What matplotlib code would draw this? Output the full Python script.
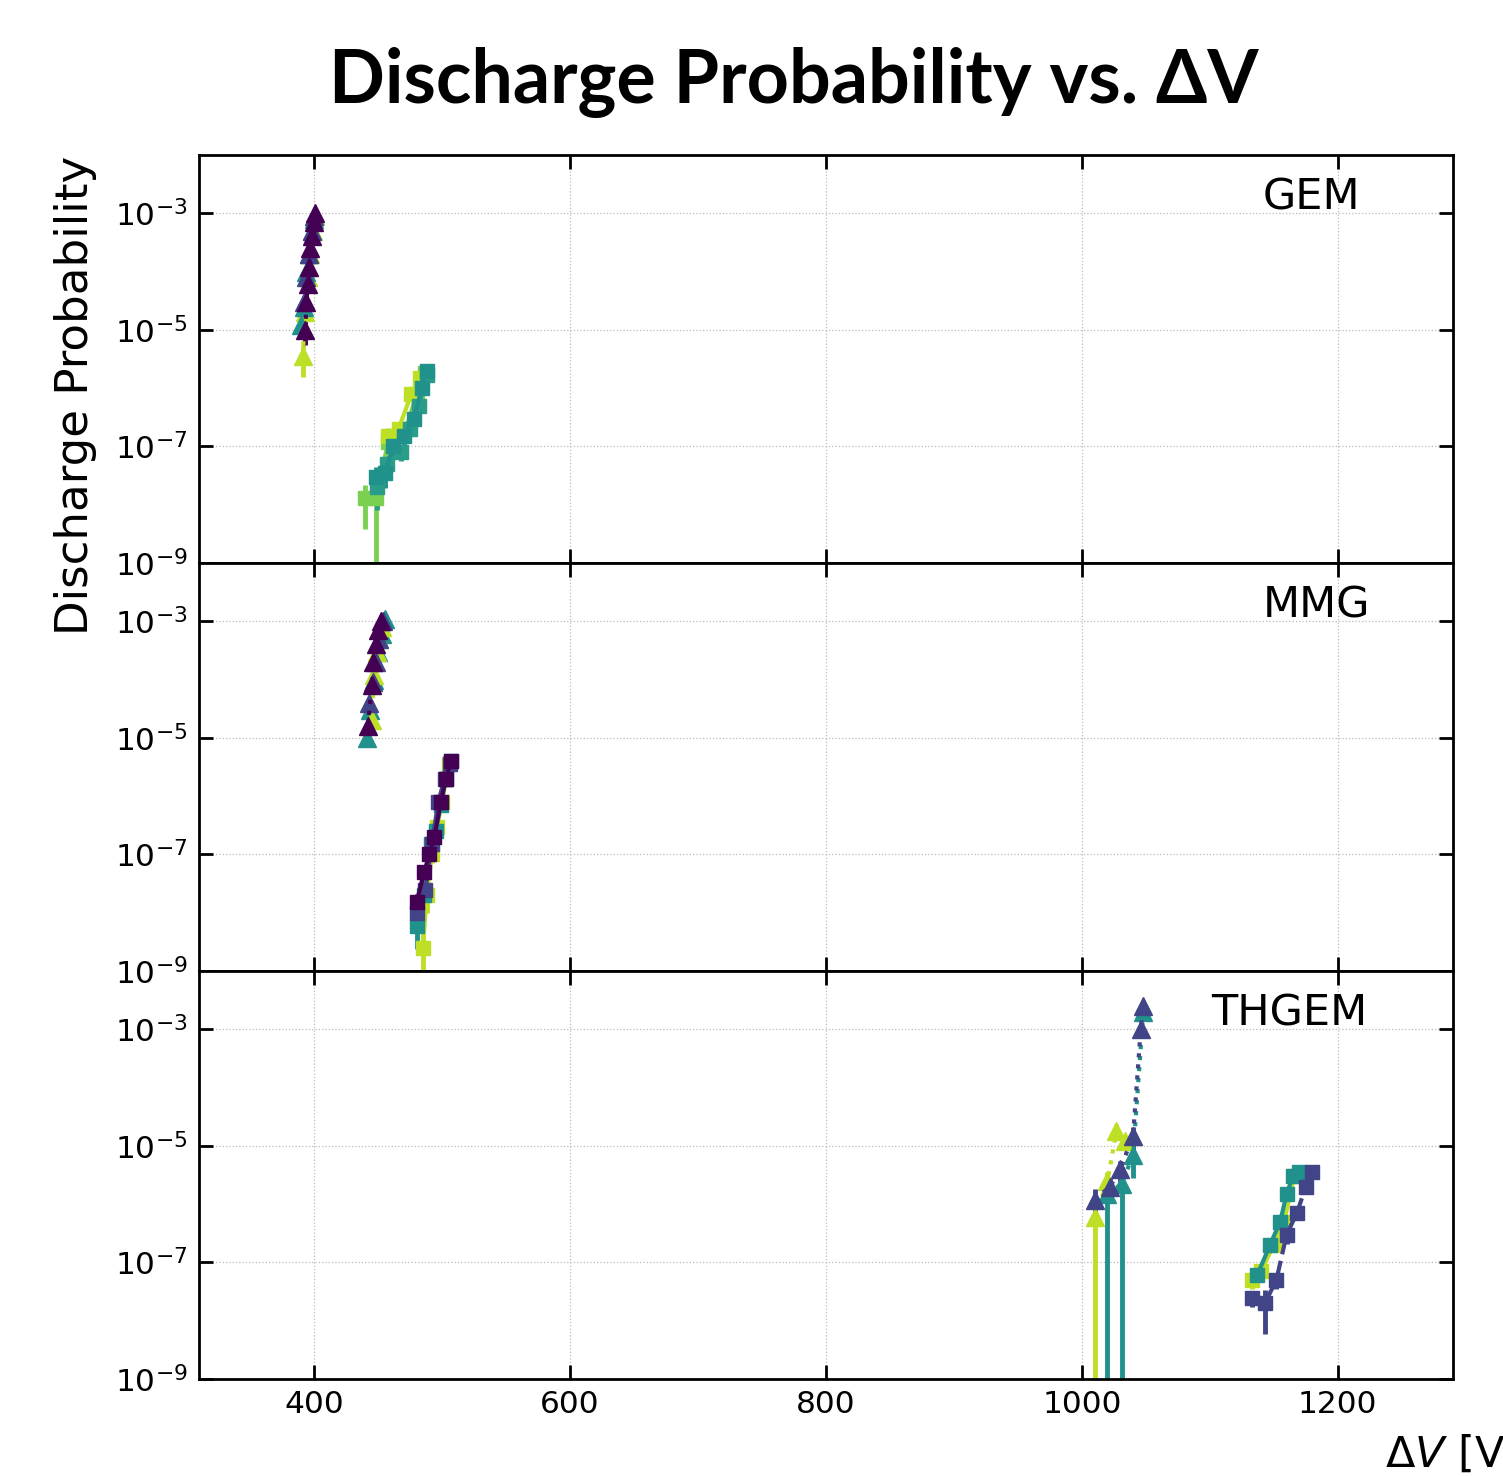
import numpy as np
import matplotlib
matplotlib.use('Agg')
import matplotlib.pyplot as plt

# viridis-like colours used by the series
PURPLE = '#440154'
DBLUE = '#414487'
TEAL = '#21918c'
TGREEN = '#2a9d8a'
GREEN = '#7ad151'
YGREEN = '#bddf26'

panel_names = ['GEM', 'MMG', 'THGEM']
panel_label_x = [0.848, 0.848, 0.807]

# ---- GEM ----
gem_tri_colors = [YGREEN, TEAL, DBLUE, PURPLE]
gem_tri_x = [[391, 393, 395, 397, 399, 401],
             [390, 392, 394, 396, 398, 400],
             [392, 394, 396, 398, 400],
             [393, 394, 395, 396, 397, 398, 400, 401]]
gem_tri_y = [[3.5e-6, 2e-5, 8e-5, 2e-4, 5e-4, 9e-4],
             [1.2e-5, 2.5e-5, 1e-4, 2e-4, 5e-4, 8e-4],
             [3e-5, 8e-5, 2e-4, 5e-4, 9e-4],
             [1e-5, 3e-5, 6e-5, 1.2e-4, 2.5e-4, 4e-4, 7e-4, 1e-3]]
gem_tri_err = [[0.55, 0.3, 0.2, 0.15, 0.1, 0.1],
               [0.3, 0.25, 0.2, 0.15, 0.1, 0.1],
               [0.25, 0.2, 0.15, 0.1, 0.1],
               [0.45, 0.3, 0.2, 0.15, 0.1, 0.1, 0.1, 0.1]]

gem_sq_colors = [GREEN, YGREEN, TGREEN, TEAL]
gem_sq_x = [[440, 448, 458, 465, 472, 480, 487],
            [458, 466, 476, 483],
            [449, 457, 468, 475, 482, 488],
            [448, 455, 462, 470, 478, 484, 488]]
gem_sq_y = [[1.3e-8, 1.3e-8, 1.2e-7, 1.5e-7, 2e-7, 8e-7, 1.8e-6],
            [1.5e-7, 2e-7, 8e-7, 1.5e-6],
            [2e-8, 5e-8, 8e-8, 2e-7, 5e-7, 1.7e-6],
            [3e-8, 3.5e-8, 1e-7, 1.5e-7, 3e-7, 1e-6, 2e-6]]
gem_sq_err = [[0.7, 1.0, 0.4, 0.3, 0.3, 0.2, 0.15],
              [0.4, 0.3, 0.2, 0.15],
              [0.6, 0.4, 0.3, 0.25, 0.2, 0.15],
              [0.5, 0.45, 0.35, 0.3, 0.25, 0.2, 0.15]]

# ---- MMG ----
mmg_tri_colors = [TEAL, YGREEN, DBLUE, PURPLE]
mmg_tri_x = [[441, 444, 447, 450, 453, 455],
             [445, 447, 449, 451, 453],
             [443, 446, 448, 451, 454],
             [442, 445, 446, 448, 450, 452]]
mmg_tri_y = [[1e-5, 3e-5, 1e-4, 3e-4, 6e-4, 1.1e-3],
             [2e-5, 1.2e-4, 3e-4, 5e-4, 8e-4],
             [4e-5, 9e-5, 2e-4, 5e-4, 1e-3],
             [1.6e-5, 8e-5, 2e-4, 4e-4, 7e-4, 1e-3]]
mmg_tri_err = [[0.25, 0.2, 0.15, 0.1, 0.1, 0.1],
               [0.25, 0.15, 0.1, 0.1, 0.1],
               [0.2, 0.15, 0.1, 0.1, 0.1],
               [0.25, 0.15, 0.1, 0.1, 0.1, 0.1]]

mmg_sq_colors = [YGREEN, TEAL, DBLUE, PURPLE]
mmg_sq_x = [[485, 488, 492, 496, 500, 505],
            [480, 486, 491, 495, 499, 503, 507],
            [480, 487, 492, 497, 502, 506],
            [480, 486, 490, 494, 499, 503, 507]]
mmg_sq_y = [[2.5e-9, 2e-8, 1e-7, 3e-7, 8e-7, 3.5e-6],
            [6e-9, 2e-8, 1.5e-7, 2.5e-7, 7e-7, 2e-6, 4e-6],
            [1e-8, 2.5e-8, 1.5e-7, 8e-7, 2e-6, 3.5e-6],
            [1.5e-8, 5e-8, 1e-7, 2e-7, 8e-7, 2e-6, 4e-6]]
mmg_sq_err = [[1.0, 0.5, 0.3, 0.25, 0.2, 0.15],
              [0.6, 0.4, 0.3, 0.25, 0.2, 0.15, 0.1],
              [0.5, 0.4, 0.3, 0.2, 0.15, 0.1],
              [0.4, 0.3, 0.3, 0.2, 0.15, 0.1, 0.1]]

# ---- THGEM ----
thg_tri_colors = [YGREEN, TEAL, DBLUE]
thg_tri_x = [[1010, 1020, 1027, 1034],
             [1020, 1031, 1040, 1048],
             [1010, 1022, 1030, 1040, 1046, 1048]]
thg_tri_y = [[6e-7, 2.5e-6, 1.8e-5, 1.2e-5],
             [1.5e-6, 2.2e-6, 7e-6, 2e-3],
             [1.2e-6, 2e-6, 4e-6, 1.5e-5, 1e-3, 2.5e-3]]
thg_tri_err = [[1.0, 0.4, 0.3, 0.3],
               [1.0, 1.0, 0.6, 0.15],
               [0.5, 0.4, 0.4, 0.4, 0.15, 0.15]]

thg_sq_colors = [YGREEN, TEAL, DBLUE]
thg_sq_x = [[1133, 1140, 1150, 1158, 1166],
            [1137, 1147, 1155, 1160, 1165, 1170],
            [1133, 1143, 1152, 1160, 1168, 1175, 1180]]
thg_sq_y = [[5e-8, 7e-8, 2e-7, 5e-7, 3e-6],
            [6e-8, 2e-7, 5e-7, 1.5e-6, 3e-6, 3.5e-6],
            [2.5e-8, 2e-8, 5e-8, 3e-7, 7e-7, 2e-6, 3.5e-6]]
thg_sq_err = [[0.3, 0.3, 0.2, 0.2, 0.15],
              [0.3, 0.25, 0.2, 0.2, 0.15, 0.1],
              [0.3, 0.7, 0.3, 0.3, 0.2, 0.15, 0.1]]
thg_sq_styles = ['-', '-', '--']

panels = [
    [(gem_tri_colors, gem_tri_x, gem_tri_y, gem_tri_err, '^', [':'] * 4),
     (gem_sq_colors, gem_sq_x, gem_sq_y, gem_sq_err, 's', ['-'] * 4)],
    [(mmg_tri_colors, mmg_tri_x, mmg_tri_y, mmg_tri_err, '^', [':'] * 4),
     (mmg_sq_colors, mmg_sq_x, mmg_sq_y, mmg_sq_err, 's', ['-'] * 4)],
    [(thg_tri_colors, thg_tri_x, thg_tri_y, thg_tri_err, '^', [':'] * 3),
     (thg_sq_colors, thg_sq_x, thg_sq_y, thg_sq_err, 's', thg_sq_styles)],
]

fig = plt.figure(figsize=(15.03, 14.76), dpi=100)
gs = fig.add_gridspec(3, 1, left=0.1324, right=0.9667, top=0.895, bottom=0.0657, hspace=0)
axes = [fig.add_subplot(gs[i, 0]) for i in range(3)]

for i, ax in enumerate(axes):
    for colors, xs, ys, errs, mk, styles in panels[i]:
        for c, x, y, e, ls in zip(colors, xs, ys, errs, styles):
            x = np.array(x, dtype=float)
            y = np.array(y)
            e = np.array(e)
            ax.errorbar(x, y, yerr=[y * e, y * e], color=c, marker=mk, ms=13 if mk == '^' else 10.5,
                        ls=ls, lw=3, elinewidth=3.5, capsize=0)
    ax.set_yscale('log')
    ax.set_ylim(1e-9, 1e-2)
    ax.set_xlim(310, 1290)
    ax.set_yticks([1e-9, 1e-7, 1e-5, 1e-3])
    ax.yaxis.set_minor_locator(matplotlib.ticker.NullLocator())
    ax.set_xticks([400, 600, 800, 1000, 1200])
    ax.grid(True, ls=':', color='#bbbbbb', lw=0.9)
    ax.tick_params(direction='in', which='both', top=True, right=True, length=10, width=2,
                   labelsize=22.5, pad=8)
    for s in ax.spines.values():
        s.set_linewidth(2)
    if i < 2:
        ax.tick_params(labelbottom=False)
    ax.text(panel_label_x[i], 0.895, panel_names[i], transform=ax.transAxes, fontsize=31,
            va='center', ha='left')

fig.text(0.528, 1 - 83 / 1476, 'Discharge Probability vs. ΔV', fontsize=53, fontweight='bold',
         family='Lato', ha='center', va='center')
fig.text(0.05, 1 - 395 / 1476, 'Discharge Probability', rotation=90, fontsize=32.5,
         ha='center', va='center')
fig.text(1385 / 1503, 1 - 1455 / 1476, r'$\Delta V$ [V]', fontsize=31, ha='left', va='center')

fig.savefig('out.png', dpi=100)
